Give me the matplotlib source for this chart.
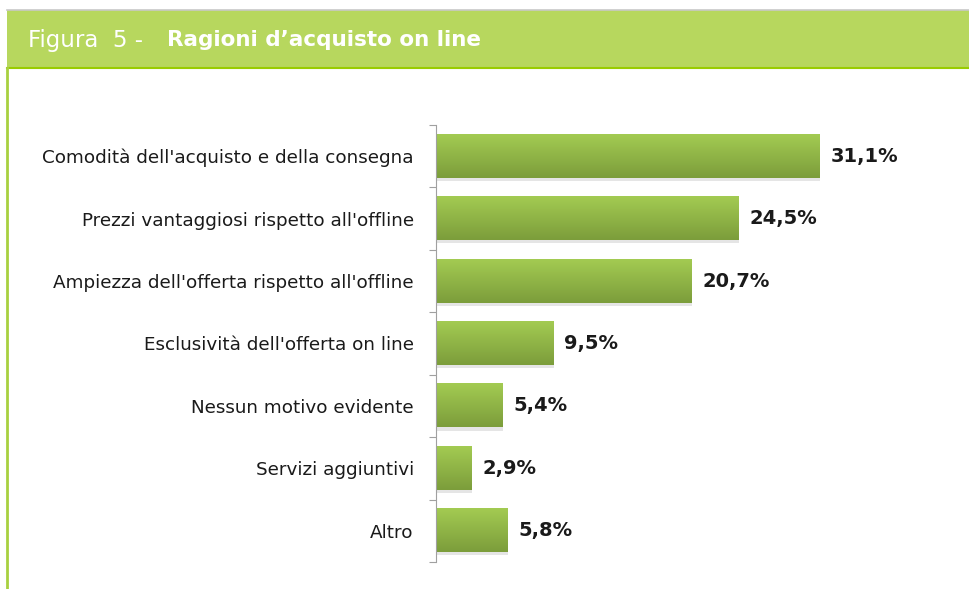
import matplotlib
matplotlib.use("Agg")
import matplotlib.pyplot as plt
import numpy as np
from matplotlib.colors import LinearSegmentedColormap
from matplotlib.patches import Rectangle

categories = [
    "Comodità dell'acquisto e della consegna",
    "Prezzi vantaggiosi rispetto all'offline",
    "Ampiezza dell'offerta rispetto all'offline",
    "Esclusività dell'offerta on line",
    "Nessun motivo evidente",
    "Servizi aggiuntivi",
    "Altro",
]
values = [31.1, 24.5, 20.7, 9.5, 5.4, 2.9, 5.8]
value_labels = ["31,1%", "24,5%", "20,7%", "9,5%", "5,4%", "2,9%", "5,8%"]

W, H = 970, 589
fig = plt.figure(figsize=(W / 100, H / 100), dpi=100)
fig.patch.set_facecolor("white")

# header band
bg = fig.add_axes([0, 0, 1, 1])
bg.set_xlim(0, W)
bg.set_ylim(H, 0)
bg.axis("off")
bg.add_patch(Rectangle((7, 10), W - 7, 58, facecolor="#b7d75e", edgecolor="none"))
bg.plot([7, W], [10, 10], color="#c8c8c8", lw=1.2)
bg.plot([7, W], [68, 68], color="#99cc00", lw=1.5)
bg.plot([7.5, 7.5], [68, H], color="#a8d040", lw=2)
bg.text(28, 40, "Figura  5 -", color="white", fontsize=16.5, va="center", ha="left",
        family="DejaVu Sans")
bg.text(167, 40, "Ragioni d\u2019acquisto on line", color="white", fontsize=15.5,
        fontweight="bold", va="center", ha="left", family="DejaVu Sans")

ax = fig.add_axes([436 / W, 1 - 562 / H, (945 - 436) / W, (562 - 125) / H])
n = len(categories)
y = np.arange(n)
height = 0.69
xmax = (945 - 436) / 12.34
ax.set_xlim(0, xmax)
ax.set_ylim(n - 0.5, -0.5)

cmap = LinearSegmentedColormap.from_list("g", ["#a3cb52", "#7c9d3b"])
grad = np.linspace(0, 1, 64).reshape(-1, 1)
for yi, v in zip(y, values):
    # shadow
    ax.add_patch(Rectangle((0.05, yi - height / 2 + 0.05), v, height,
                           facecolor="#000000", alpha=0.10, edgecolor="none", zorder=1))
    ax.imshow(grad, cmap=cmap, aspect="auto",
              extent=(0, v, yi + height / 2, yi - height / 2), zorder=2)
for yi, v, lab in zip(y, values, value_labels):
    ax.text(v + 0.9, yi, lab, va="center", ha="left", fontsize=14,
            fontweight="bold", color="#1a1a1a")

ax.set_yticks(np.arange(-0.5, n, 1.0))
ax.set_yticklabels([])
ax.set_yticks(y, minor=True)
ax.set_yticklabels(categories, minor=True)
ax.tick_params(axis="y", which="major", length=5, color="#a0a0a0", direction="out")
ax.tick_params(axis="y", which="minor", length=0, pad=16, labelsize=13.2,
               labelcolor="#1a1a1a")
ax.set_xticks([])
for s in ["top", "right", "bottom"]:
    ax.spines[s].set_visible(False)
ax.spines["left"].set_color("#a0a0a0")
ax.set_xlim(0, xmax)
ax.set_ylim(n - 0.5, -0.5)

fig.savefig("out.png", dpi=100, facecolor="white")
